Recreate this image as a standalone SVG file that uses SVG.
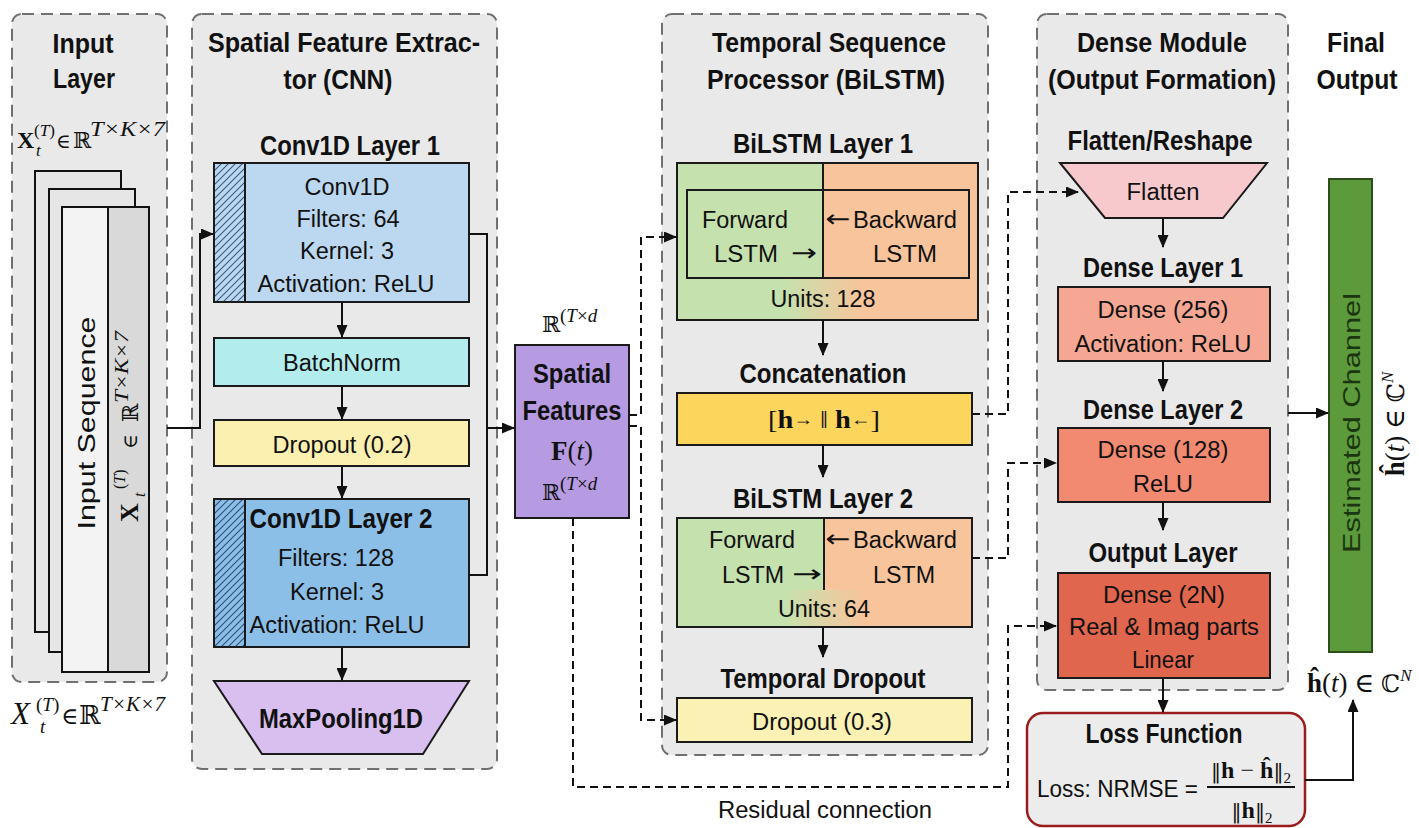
<svg xmlns="http://www.w3.org/2000/svg" width="1419" height="828" viewBox="0 0 1419 828">
<defs>
<style>
.panel{fill:#e9e9e9;stroke:#707070;stroke-width:2;stroke-dasharray:12 7}
.box{stroke:#1a1a1a;stroke-width:2}
.h{font-family:"Liberation Sans",Arial,sans-serif;font-weight:bold;font-size:27px;text-anchor:middle;fill:#111}
.t{font-family:"Liberation Sans",Arial,sans-serif;font-size:23px;text-anchor:middle;fill:#111}
.ts{font-family:"Liberation Sans",Arial,sans-serif;font-size:23px;text-anchor:start;fill:#111}
.g{font-family:"Liberation Sans",Arial,sans-serif;font-size:24px;text-anchor:middle;fill:#1b3510}
.m{font-family:"Liberation Serif","DejaVu Serif",serif;fill:#111}
.ds{font-family:"DejaVu Serif",serif;fill:#111}
.c{fill:none;stroke:#111;stroke-width:2}
.d{fill:none;stroke:#111;stroke-width:2;stroke-dasharray:8 5}
.arr{font-family:"DejaVu Sans",sans-serif;font-size:24px;text-anchor:middle;fill:#111}
</style>
<marker id="ah" markerWidth="13" markerHeight="11" refX="12" refY="5.5" orient="auto" markerUnits="userSpaceOnUse"><path d="M0,0 L13,5.5 L0,11 z" fill="#111"/></marker>
<pattern id="hatch1" patternUnits="userSpaceOnUse" width="7" height="7"><rect width="7" height="7" fill="#bcd8f0"/><path d="M0,7 L7,0 M-1,1 L1,-1 M6,8 L8,6" stroke="#3a5a80" stroke-width="1.1"/></pattern>
<pattern id="hatch2" patternUnits="userSpaceOnUse" width="7" height="7"><rect width="7" height="7" fill="#8cbfe8"/><path d="M0,7 L7,0 M-1,1 L1,-1 M6,8 L8,6" stroke="#2f4f78" stroke-width="1.1"/></pattern>
<linearGradient id="blend" x1="0" x2="1" y1="0" y2="0"><stop offset="0" stop-color="#c5e2ae"/><stop offset="1" stop-color="#f8c49b"/></linearGradient>
</defs>
<rect width="1419" height="828" fill="#ffffff"/>

<!-- Panels -->
<g id="panels">
<rect class="panel" x="12" y="14" width="155" height="668" rx="10"/>
<rect class="panel" x="192" y="14" width="305" height="755" rx="10"/>
<rect class="panel" x="662" y="14" width="326" height="741" rx="10"/>
<rect class="panel" x="1037" y="14" width="251" height="676" rx="10"/>
</g>

<!-- Titles -->
<g id="titles">
<text class="h" x="83" y="53" textLength="61" lengthAdjust="spacingAndGlyphs">Input</text>
<text class="h" x="84" y="88" textLength="62" lengthAdjust="spacingAndGlyphs">Layer</text>
<text class="h" x="344" y="52" textLength="272" lengthAdjust="spacingAndGlyphs">Spatial Feature Extrac-</text>
<text class="h" x="338" y="89" textLength="109" lengthAdjust="spacingAndGlyphs">tor (CNN)</text>
<text class="h" x="829" y="52" textLength="234" lengthAdjust="spacingAndGlyphs">Temporal Sequence</text>
<text class="h" x="826" y="89" textLength="238" lengthAdjust="spacingAndGlyphs">Processor (BiLSTM)</text>
<text class="h" x="1162" y="52" textLength="170" lengthAdjust="spacingAndGlyphs">Dense Module</text>
<text class="h" x="1162" y="89" textLength="228" lengthAdjust="spacingAndGlyphs">(Output Formation)</text>
<text class="h" x="1356" y="52" textLength="58" lengthAdjust="spacingAndGlyphs">Final</text>
<text class="h" x="1357" y="89" textLength="81" lengthAdjust="spacingAndGlyphs">Output</text>
</g>

<!-- Input layer -->
<g id="input-layer">
<text class="m" x="17" y="148" font-size="24" font-weight="bold">X</text>
<text class="m" x="34" y="136" font-size="17"><tspan>(</tspan><tspan font-style="italic">T</tspan><tspan>)</tspan></text>
<text class="m" x="36" y="156" font-size="17" font-style="italic">t</text>
<text class="ds" x="56" y="148" font-size="20">∈</text>
<text class="ds" x="73" y="148" font-size="22">ℝ</text>
<text class="m" x="90" y="136" font-size="21" font-style="italic" textLength="75" lengthAdjust="spacingAndGlyphs">T×K×7</text>
<rect x="35" y="171" width="86" height="461" fill="#e6e6e6" stroke="#111" stroke-width="2"/>
<rect x="49" y="189" width="86" height="463" fill="#e6e6e6" stroke="#111" stroke-width="2"/>
<rect x="62" y="207" width="46" height="465" fill="#f3f3f3"/>
<rect x="108" y="207" width="41" height="465" fill="#d9d9d9"/>
<rect x="62" y="207" width="87" height="465" fill="none" stroke="#111" stroke-width="2"/>
<line x1="108" y1="207" x2="108" y2="672" stroke="#111" stroke-width="2"/>
<text class="t" transform="translate(86,423) rotate(-90)" x="0" y="9" textLength="213" lengthAdjust="spacingAndGlyphs">Input Sequence</text>
<g transform="translate(128,425) rotate(-90)">
<text class="m" x="-97" y="10" font-size="26" font-weight="bold">X</text>
<text class="m" x="-64" y="-3" font-size="16"><tspan>(</tspan><tspan font-style="italic">T</tspan><tspan>)</tspan></text>
<text class="m" x="-72" y="17" font-size="16" font-style="italic">t</text>
<text class="ds" x="-24" y="9" font-size="20">∈</text>
<text class="ds" x="3" y="10" font-size="22">ℝ</text>
<text class="m" x="22" y="0" font-size="19" font-style="italic" textLength="72" lengthAdjust="spacingAndGlyphs">T×K×7</text>
</g>
<text class="m" x="11" y="724" font-size="31" font-style="italic">X</text>
<text class="m" x="36" y="711" font-size="19"><tspan>(</tspan><tspan font-style="italic">T</tspan><tspan>)</tspan></text>
<text class="m" x="40" y="733" font-size="19" font-style="italic">t</text>
<text class="ds" x="61" y="724" font-size="23">∈</text>
<text class="ds" x="79" y="724" font-size="26">ℝ</text>
<text class="m" x="100" y="711" font-size="22" font-style="italic" textLength="65" lengthAdjust="spacingAndGlyphs">T×K×7</text>
</g>

<!-- CNN nodes -->
<g id="conv1">
<text class="h" x="350" y="155" textLength="180" lengthAdjust="spacingAndGlyphs">Conv1D Layer 1</text>
<rect class="box" x="214" y="163" width="255" height="139" fill="#bcd8f0"/>
<rect class="box" x="214" y="163" width="31" height="139" fill="url(#hatch1)"/>
<text class="t" x="347" y="195" textLength="85" lengthAdjust="spacingAndGlyphs">Conv1D</text>
<text class="t" x="348" y="227" textLength="103" lengthAdjust="spacingAndGlyphs">Filters: 64</text>
<text class="t" x="347" y="259" textLength="94" lengthAdjust="spacingAndGlyphs">Kernel: 3</text>
<text class="t" x="346" y="292" textLength="177" lengthAdjust="spacingAndGlyphs">Activation: ReLU</text>
</g>
<g id="batchnorm">
<rect class="box" x="214" y="338" width="255" height="48" fill="#b3ecec"/>
<text class="t" x="342" y="371" textLength="118" lengthAdjust="spacingAndGlyphs">BatchNorm</text>
</g>
<g id="dropout1">
<rect class="box" x="214" y="420" width="255" height="46" fill="#fbf0b0"/>
<text class="t" x="342" y="453" textLength="139" lengthAdjust="spacingAndGlyphs">Dropout (0.2)</text>
</g>
<g id="conv2">
<rect class="box" x="214" y="499" width="255" height="148" fill="#8cbfe8"/>
<rect class="box" x="214" y="499" width="31" height="148" fill="url(#hatch2)"/>
<text class="h" x="341" y="528" textLength="183" lengthAdjust="spacingAndGlyphs">Conv1D Layer 2</text>
<text class="t" x="336" y="566" textLength="116" lengthAdjust="spacingAndGlyphs">Filters: 128</text>
<text class="t" x="337" y="600" textLength="94" lengthAdjust="spacingAndGlyphs">Kernel: 3</text>
<text class="t" x="337" y="633" textLength="175" lengthAdjust="spacingAndGlyphs">Activation: ReLU</text>
</g>
<g id="maxpool">
<path class="box" d="M214,681 L469,681 L423,754 L262,754 Z" fill="#d8bff0"/>
<text class="h" x="341" y="728" textLength="164" lengthAdjust="spacingAndGlyphs">MaxPooling1D</text>
</g>

<!-- Spatial features -->
<g id="spatial-features">
<text class="ds" x="542" y="332" font-size="22">ℝ</text>
<text class="m" x="560" y="322" font-size="19"><tspan>(</tspan><tspan font-style="italic">T</tspan><tspan>×</tspan><tspan font-style="italic">d</tspan></text>
<rect class="box" x="515" y="345" width="114" height="173" fill="#b79be2"/>
<text class="h" x="572" y="383" textLength="78" lengthAdjust="spacingAndGlyphs">Spatial</text>
<text class="h" x="572" y="420" textLength="99" lengthAdjust="spacingAndGlyphs">Features</text>
<text class="m" x="572" y="460" font-size="27" text-anchor="middle"><tspan font-weight="bold">F</tspan><tspan>(</tspan><tspan font-style="italic">t</tspan><tspan>)</tspan></text>
<text class="ds" x="542" y="500" font-size="22">ℝ</text>
<text class="m" x="560" y="490" font-size="19"><tspan>(</tspan><tspan font-style="italic">T</tspan><tspan>×</tspan><tspan font-style="italic">d</tspan></text>
</g>

<!-- BiLSTM -->
<g id="bilstm1">
<text class="h" x="823" y="153" textLength="180" lengthAdjust="spacingAndGlyphs">BiLSTM Layer 1</text>
<rect x="677" y="163" width="146" height="157" fill="#c5e2ae"/>
<rect x="823" y="163" width="155" height="157" fill="#f8c49b"/>
<rect x="783" y="279" width="80" height="40" fill="url(#blend)"/>
<rect class="box" x="677" y="163" width="301" height="157" fill="none"/>
<rect class="box" x="687" y="190" width="282" height="88" fill="none"/>
<line x1="823" y1="163" x2="823" y2="278" stroke="#1a1a1a" stroke-width="2"/>
<text class="t" x="745" y="228" textLength="86" lengthAdjust="spacingAndGlyphs">Forward</text>
<text class="t" x="746" y="262" textLength="64" lengthAdjust="spacingAndGlyphs">LSTM</text>
<text class="arr" x="804" y="261" textLength="26" lengthAdjust="spacingAndGlyphs">→</text>
<text class="arr" x="838" y="227" textLength="25" lengthAdjust="spacingAndGlyphs">←</text>
<text class="t" x="905" y="228" textLength="104" lengthAdjust="spacingAndGlyphs">Backward</text>
<text class="t" x="905" y="262" textLength="64" lengthAdjust="spacingAndGlyphs">LSTM</text>
<text class="t" x="823" y="307" textLength="105" lengthAdjust="spacingAndGlyphs">Units: 128</text>
</g>
<g id="concat">
<text class="h" x="823" y="383" textLength="167" lengthAdjust="spacingAndGlyphs">Concatenation</text>
<rect class="box" x="677" y="393" width="295" height="52" fill="#fcd55c"/>
<text class="m" x="824" y="428" font-size="26" text-anchor="middle" textLength="112" lengthAdjust="spacingAndGlyphs">[<tspan font-weight="bold">h</tspan><tspan font-size="18" dy="-3">→</tspan><tspan dy="3"> ‖ </tspan><tspan font-weight="bold">h</tspan><tspan font-size="18" dy="-3">←</tspan><tspan dy="3">]</tspan></text>
</g>
<g id="bilstm2">
<text class="h" x="823" y="508" textLength="180" lengthAdjust="spacingAndGlyphs">BiLSTM Layer 2</text>
<rect x="677" y="518" width="147" height="109" fill="#c5e2ae"/>
<rect x="824" y="518" width="148" height="109" fill="#f8c49b"/>
<rect x="784" y="590" width="80" height="36" fill="url(#blend)"/>
<rect class="box" x="677" y="518" width="295" height="109" fill="none"/>
<line x1="824" y1="518" x2="824" y2="590" stroke="#1a1a1a" stroke-width="2"/>
<text class="t" x="752" y="548" textLength="86" lengthAdjust="spacingAndGlyphs">Forward</text>
<text class="t" x="753" y="583" textLength="62" lengthAdjust="spacingAndGlyphs">LSTM</text>
<text class="arr" x="807" y="582" textLength="30" lengthAdjust="spacingAndGlyphs">→</text>
<text class="arr" x="838" y="547" textLength="25" lengthAdjust="spacingAndGlyphs">←</text>
<text class="t" x="905" y="548" textLength="104" lengthAdjust="spacingAndGlyphs">Backward</text>
<text class="t" x="904" y="583" textLength="62" lengthAdjust="spacingAndGlyphs">LSTM</text>
<text class="t" x="824" y="617" textLength="92" lengthAdjust="spacingAndGlyphs">Units: 64</text>
</g>
<g id="dropout2">
<text class="h" x="823" y="688" textLength="205" lengthAdjust="spacingAndGlyphs">Temporal Dropout</text>
<rect class="box" x="677" y="698" width="295" height="44" fill="#fbf1b4"/>
<text class="t" x="822" y="730" textLength="140" lengthAdjust="spacingAndGlyphs">Dropout (0.3)</text>
</g>

<!-- Dense module -->
<g id="flatten">
<text class="h" x="1160" y="150" textLength="185" lengthAdjust="spacingAndGlyphs">Flatten/Reshape</text>
<path class="box" d="M1060,163 L1267,163 L1223,218 L1105,218 Z" fill="#f8c9cc"/>
<text class="t" x="1163" y="200" textLength="73" lengthAdjust="spacingAndGlyphs">Flatten</text>
</g>
<g id="dense1">
<text class="h" x="1163" y="277" textLength="160" lengthAdjust="spacingAndGlyphs">Dense Layer 1</text>
<rect class="box" x="1058" y="287" width="212" height="74" fill="#f6a793"/>
<text class="t" x="1163" y="318" textLength="131" lengthAdjust="spacingAndGlyphs">Dense (256)</text>
<text class="t" x="1163" y="352" textLength="177" lengthAdjust="spacingAndGlyphs">Activation: ReLU</text>
</g>
<g id="dense2">
<text class="h" x="1163" y="419" textLength="160" lengthAdjust="spacingAndGlyphs">Dense Layer 2</text>
<rect class="box" x="1058" y="428" width="212" height="74" fill="#f18a70"/>
<text class="t" x="1163" y="458" textLength="131" lengthAdjust="spacingAndGlyphs">Dense (128)</text>
<text class="t" x="1163" y="492" textLength="60" lengthAdjust="spacingAndGlyphs">ReLU</text>
</g>
<g id="output-layer">
<text class="h" x="1163" y="562" textLength="149" lengthAdjust="spacingAndGlyphs">Output Layer</text>
<rect class="box" x="1058" y="573" width="212" height="105" fill="#e0664d"/>
<text class="t" x="1164" y="603" textLength="122" lengthAdjust="spacingAndGlyphs">Dense (2N)</text>
<text class="t" x="1164" y="635" textLength="190" lengthAdjust="spacingAndGlyphs">Real &amp; Imag parts</text>
<text class="t" x="1163" y="668" textLength="62" lengthAdjust="spacingAndGlyphs">Linear</text>
</g>
<g id="loss">
<rect x="1027" y="713" width="278" height="113" rx="16" fill="#ececec" stroke="#9b1c1c" stroke-width="2.5"/>
<text class="h" x="1164" y="743" textLength="157" lengthAdjust="spacingAndGlyphs">Loss Function</text>
<text class="ts" x="1037" y="797" textLength="161" lengthAdjust="spacingAndGlyphs">Loss: NRMSE =</text>
<text class="m" x="1251" y="778" font-size="24" text-anchor="middle"><tspan font-family="DejaVu Serif" font-size="20">‖</tspan><tspan font-weight="bold">h</tspan> − <tspan font-weight="bold">ĥ</tspan><tspan font-family="DejaVu Serif" font-size="20">‖</tspan><tspan font-size="15" dy="5">2</tspan></text>
<line x1="1207" y1="787" x2="1295" y2="787" stroke="#111" stroke-width="1.8"/>
<text class="m" x="1252" y="818" font-size="24" text-anchor="middle"><tspan font-family="DejaVu Serif" font-size="20">‖</tspan><tspan font-weight="bold">h</tspan><tspan font-family="DejaVu Serif" font-size="20">‖</tspan><tspan font-size="15" dy="5">2</tspan></text>
</g>

<!-- Final output -->
<g id="final-output">
<rect x="1329" y="179" width="43" height="473" fill="#5c9a3b" stroke="#2c4f1c" stroke-width="2"/>
<text class="g" transform="translate(1351,423) rotate(-90)" x="0" y="9" fill="#1b3510" textLength="260" lengthAdjust="spacingAndGlyphs">Estimated Channel</text>
<text class="m" transform="translate(1392,424) rotate(-90)" x="0" y="12" font-size="27" text-anchor="middle"><tspan font-weight="bold">ĥ</tspan>(<tspan font-style="italic">t</tspan>) ∈ <tspan font-family="DejaVu Serif" font-size="24">ℂ</tspan><tspan font-style="italic" font-size="17" dy="-11">N</tspan></text>
<text class="m" x="1307" y="692" font-size="27"><tspan font-weight="bold">ĥ</tspan>(<tspan font-style="italic">t</tspan>) ∈ <tspan font-family="DejaVu Serif" font-size="24">ℂ</tspan><tspan font-style="italic" font-size="17" dy="-11">N</tspan></text>
</g>

<!-- Connectors -->
<g id="connectors">
<path class="c" d="M167,428 H200 V234 H213" marker-end="url(#ah)"/>
<path class="c" d="M342,302 V337" marker-end="url(#ah)"/>
<path class="c" d="M342,386 V419" marker-end="url(#ah)"/>
<path class="c" d="M342,466 V498" marker-end="url(#ah)"/>
<path class="c" d="M342,647 V680" marker-end="url(#ah)"/>
<path class="c" d="M469,234 H487 V575 H469"/>
<path class="c" d="M487,428 H514" marker-end="url(#ah)"/>
<path class="d" d="M629,415 H641 V237 H676" marker-end="url(#ah)"/>
<path class="d" d="M629,426 H641 V720 H676" marker-end="url(#ah)"/>
<path class="d" d="M573,518 V787 H1008 V626 H1056" marker-end="url(#ah)"/>
<path class="c" d="M823,320 V355" marker-end="url(#ah)"/>
<path class="c" d="M823,445 V477" marker-end="url(#ah)"/>
<path class="c" d="M823,627 V657" marker-end="url(#ah)"/>
<path class="d" d="M972,414 H1008 V192 H1078" marker-end="url(#ah)"/>
<path class="d" d="M972,558 H1008 V463 H1056" marker-end="url(#ah)"/>
<path class="c" d="M1163,218 V247" marker-end="url(#ah)"/>
<path class="c" d="M1163,361 V391" marker-end="url(#ah)"/>
<path class="c" d="M1163,502 V530" marker-end="url(#ah)"/>
<path class="c" d="M1163,678 V712" marker-end="url(#ah)"/>
<path class="c" d="M1288,413 H1328" marker-end="url(#ah)"/>
<path class="c" d="M1305,780 H1353 V700" marker-end="url(#ah)"/>
<text class="t" x="825" y="818" textLength="214" lengthAdjust="spacingAndGlyphs">Residual connection</text>
</g>
</svg>
